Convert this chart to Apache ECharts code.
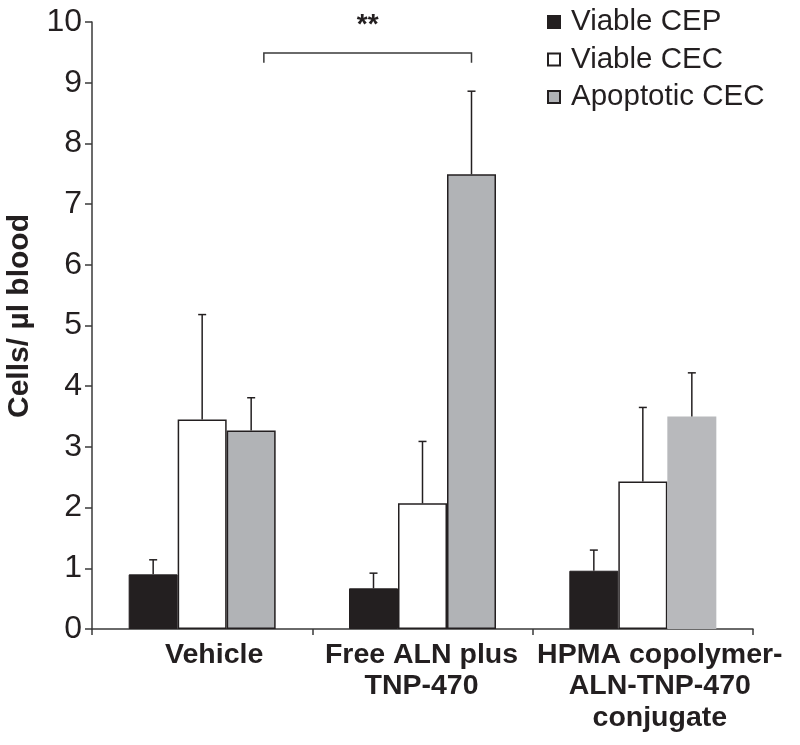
<!DOCTYPE html>
<html>
<head>
<meta charset="utf-8">
<script src="https://cdn.jsdelivr.net/npm/echarts@6/dist/echarts.min.js"></script>
<style>html,body{margin:0;padding:0;background:#fff}#c{width:800px;height:745px}</style>
</head>
<body>
<div id="c"></div>
<script>
const categories = ['Vehicle', 'Free ALN plus\nTNP-470', 'HPMA copolymer-\nALN-TNP-470\nconjugate'];
const seriesNames = ['Viable CEP', 'Viable CEC', 'Apoptotic CEC'];
const viableCEP = [0.90, 0.67, 0.96];
const viableCEPErr = [1.14, 0.92, 1.30];
const viableCEC = [3.45, 2.07, 2.43];
const viableCECErr = [5.18, 3.09, 3.65];
const apoptoticCEC = [3.27, 7.49, 3.50];
const apoptoticCECErr = [3.81, 8.86, 4.22];
const yTicks = [0, 1, 2, 3, 4, 5, 6, 7, 8, 9, 10];
const sigLabel = '**';
const sigY = 9.49;
const sigDrop = 9.33;
const sigTextY = 9.95;

// styling (not data)
const FONT = '"Liberation Sans", Arial, sans-serif';
const INK = '#231f20';
const BW = 49;
const labelShift = [24, -2, 34]; // extra left padding per category label

const chart = echarts.init(document.getElementById('c'));

function errSeries(vals, errs, idx) {
  return {
    type: 'custom',
    silent: true,
    z: 5,
    data: vals.map((v, i) => [i, v, errs[i]]),
    renderItem: function (params, api) {
      const top = api.coord([api.value(0), api.value(2)]);
      const base = api.coord([api.value(0), api.value(1)]);
      const x = top[0] + (idx - 1) * BW;
      return {
        type: 'group',
        children: [
          { type: 'line', shape: { x1: x, y1: base[1], x2: x, y2: top[1] }, style: { stroke: INK, lineWidth: 1.5 } },
          { type: 'line', shape: { x1: x - 4, y1: top[1], x2: x + 4, y2: top[1] }, style: { stroke: INK, lineWidth: 1.5 } }
        ]
      };
    }
  };
}

const grayBordered = { color: '#b1b3b6', borderColor: INK, borderWidth: 1.5 };
const grayPlain = { color: '#b8b9bc', borderWidth: 0 };

chart.setOption({
  animation: false,
  textStyle: { fontFamily: FONT },
  grid: { left: 92, right: 47, top: 22, bottom: 116 },
  legend: {
    orient: 'vertical',
    left: 547,
    top: 7,
    padding: 0,
    icon: 'rect',
    itemWidth: 12,
    itemHeight: 12,
    itemGap: 7.5,
    selectedMode: false,
    data: seriesNames,
    textStyle: { fontSize: 29.5, color: INK, fontFamily: FONT, lineHeight: 30, padding: [0, 0, 0, 6] }
  },
  xAxis: {
    type: 'category',
    data: categories.map((c, i) => ({ value: c, textStyle: { padding: labelShift[i] > 0 ? [0, 0, 0, labelShift[i]] : [0, -labelShift[i], 0, 0] } })),
    axisLine: { lineStyle: { color: '#3a3a3a', width: 1.5 } },
    axisTick: { show: true, length: 6, lineStyle: { color: '#3a3a3a', width: 1.5 } },
    axisLabel: { fontSize: 28.5, fontWeight: 'bold', color: INK, lineHeight: 31.5, margin: 10, interval: 0, fontFamily: FONT }
  },
  yAxis: {
    type: 'value',
    min: 0,
    max: 10,
    interval: 1,
    splitLine: { show: false },
    axisLine: { show: true, lineStyle: { color: '#3a3a3a', width: 1.5 } },
    axisTick: { show: true, length: 7, lineStyle: { color: '#3a3a3a', width: 1.5 } },
    axisLabel: { fontSize: 32, color: INK, margin: 10, fontFamily: FONT,
      formatter: v => yTicks.includes(v) ? String(v) : '' }
  },
  graphic: [{
    type: 'text',
    x: 20, y: 316,
    rotation: Math.PI / 2,
    style: { text: 'Cells/ µl blood', font: 'bold 30px ' + FONT, fill: INK, textAlign: 'center', textVerticalAlign: 'middle' }
  }],
  series: [
    { name: seriesNames[0], type: 'bar', barWidth: BW, barGap: '0%', data: viableCEP,
      itemStyle: { color: INK, borderColor: INK, borderWidth: 1 } },
    { name: seriesNames[1], type: 'bar', barWidth: BW, barGap: '0%', data: viableCEC,
      itemStyle: { color: '#ffffff', borderColor: INK, borderWidth: 1.5 } },
    { name: seriesNames[2], type: 'bar', barWidth: BW, barGap: '0%',
      data: apoptoticCEC.map((v, i) => ({ value: v, itemStyle: i === 2 ? grayPlain : grayBordered })),
      itemStyle: grayBordered },
    errSeries(viableCEP, viableCEPErr, 0),
    errSeries(viableCEC, viableCECErr, 1),
    errSeries(apoptoticCEC, apoptoticCECErr, 2),
    {
      type: 'custom',
      silent: true,
      z: 6,
      data: [[0, sigY, sigDrop, sigTextY]],
      renderItem: function (params, api) {
        const band = api.size([1, 0])[0];
        const p0 = api.coord([0, api.value(1)]);
        const p1 = api.coord([1, api.value(1)]);
        const yd = api.coord([0, api.value(2)])[1];
        const yt = api.coord([0, api.value(3)])[1];
        const xl = p0[0] + band * 0.28;
        const xr = p1[0] + BW;
        const y = p0[1];
        return {
          type: 'group',
          children: [
            { type: 'polyline', shape: { points: [[xl, yd], [xl, y], [xr, y], [xr, yd]] }, style: { stroke: '#3a3a3a', lineWidth: 1.5, fill: null } },
            { type: 'text', x: (xl + xr) / 2, y: yt, style: { text: sigLabel, font: 'bold 28px ' + FONT, fill: INK, textAlign: 'center', textVerticalAlign: 'middle' } }
          ]
        };
      }
    }
  ]
});
</script>
</body>
</html>
